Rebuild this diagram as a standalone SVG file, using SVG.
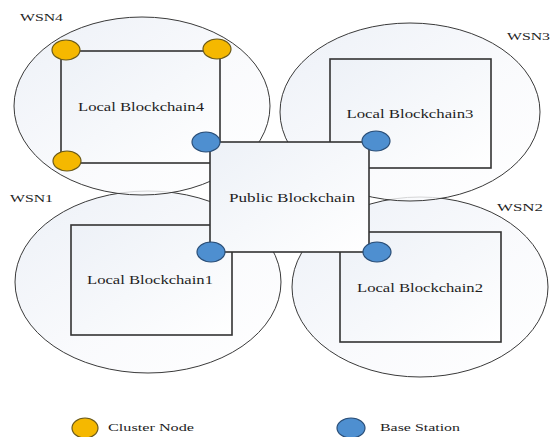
<svg xmlns="http://www.w3.org/2000/svg" width="551" height="437" viewBox="0 0 551 437">
<defs>
<linearGradient id="gE" x1="0" y1="0" x2="1" y2="1">
<stop offset="0" stop-color="#e8edf5"/>
<stop offset="0.55" stop-color="#f8f9fc"/>
<stop offset="1" stop-color="#ffffff"/>
</linearGradient>
<linearGradient id="gR" x1="0" y1="0" x2="1" y2="1">
<stop offset="0" stop-color="#edf1f7"/>
<stop offset="1" stop-color="#ffffff"/>
</linearGradient>
<style>
.wsn{fill:url(#gE);fill-opacity:0.8;stroke:#3a3a3a;stroke-width:1}
.lb{fill:url(#gR);stroke:#333;stroke-width:1.6}
.cn{fill:#f5b800;stroke:#6b5a1a;stroke-width:1.2}
.bs{fill:#4e8fd0;stroke:#2b4f78;stroke-width:1.2}
text{font-family:"Liberation Serif","Times New Roman",serif;fill:#1e1e1e}
.lbl{font-size:12.5px}
.wl{font-size:11px}
</style>
</defs>
<g id="ellipses">
<ellipse class="wsn" cx="148" cy="282" rx="133" ry="91"/>
<ellipse class="wsn" cx="420" cy="287" rx="128" ry="90"/>
<ellipse class="wsn" cx="142" cy="106" rx="128" ry="89"/>
<ellipse class="wsn" cx="410" cy="112" rx="130" ry="89"/>
</g>
<g id="wsn4">
<text class="wl" x="20" y="21" textLength="43" lengthAdjust="spacingAndGlyphs">WSN4</text>
<rect class="lb" x="61" y="51" width="159" height="112"/>
<text class="lbl" x="141" y="111" text-anchor="middle" textLength="126" lengthAdjust="spacingAndGlyphs">Local Blockchain4</text>
</g>
<g id="wsn3">
<text class="wl" x="507" y="40" textLength="43" lengthAdjust="spacingAndGlyphs">WSN3</text>
<rect class="lb" x="330" y="59" width="161" height="109"/>
<text class="lbl" x="410" y="118" text-anchor="middle" textLength="127" lengthAdjust="spacingAndGlyphs">Local Blockchain3</text>
</g>
<g id="wsn1">
<text class="wl" x="10" y="202" textLength="43" lengthAdjust="spacingAndGlyphs">WSN1</text>
<rect class="lb" x="71" y="225" width="161" height="110"/>
<text class="lbl" x="150" y="284" text-anchor="middle" textLength="126" lengthAdjust="spacingAndGlyphs">Local Blockchain1</text>
</g>
<g id="wsn2">
<text class="wl" x="497" y="211" textLength="46" lengthAdjust="spacingAndGlyphs">WSN2</text>
<rect class="lb" x="340" y="232" width="161" height="110"/>
<text class="lbl" x="420" y="292" text-anchor="middle" textLength="126" lengthAdjust="spacingAndGlyphs">Local Blockchain2</text>
</g>
<g id="public">
<rect class="lb" x="210" y="142" width="159" height="110"/>
<text class="lbl" x="292" y="202" text-anchor="middle" textLength="126" lengthAdjust="spacingAndGlyphs">Public Blockchain</text>
</g>
<g id="cluster-nodes">
<ellipse class="cn" cx="66" cy="50" rx="14" ry="10"/>
<ellipse class="cn" cx="217" cy="49" rx="14" ry="10"/>
<ellipse class="cn" cx="67" cy="161" rx="14" ry="10"/>
</g>
<g id="base-stations">
<ellipse class="bs" cx="206" cy="142" rx="14" ry="10"/>
<ellipse class="bs" cx="376" cy="141" rx="14" ry="10"/>
<ellipse class="bs" cx="211" cy="252" rx="14" ry="10"/>
<ellipse class="bs" cx="377" cy="252" rx="14" ry="10"/>
</g>
<g id="connectors"/>
<g id="legend">
<ellipse class="cn" cx="85" cy="428" rx="13" ry="10"/>
<text class="wl" x="108" y="431" textLength="86" lengthAdjust="spacingAndGlyphs">Cluster Node</text>
<ellipse class="bs" cx="351" cy="428" rx="14" ry="10"/>
<text class="wl" x="380" y="431" textLength="80" lengthAdjust="spacingAndGlyphs">Base Station</text>
</g>
</svg>
